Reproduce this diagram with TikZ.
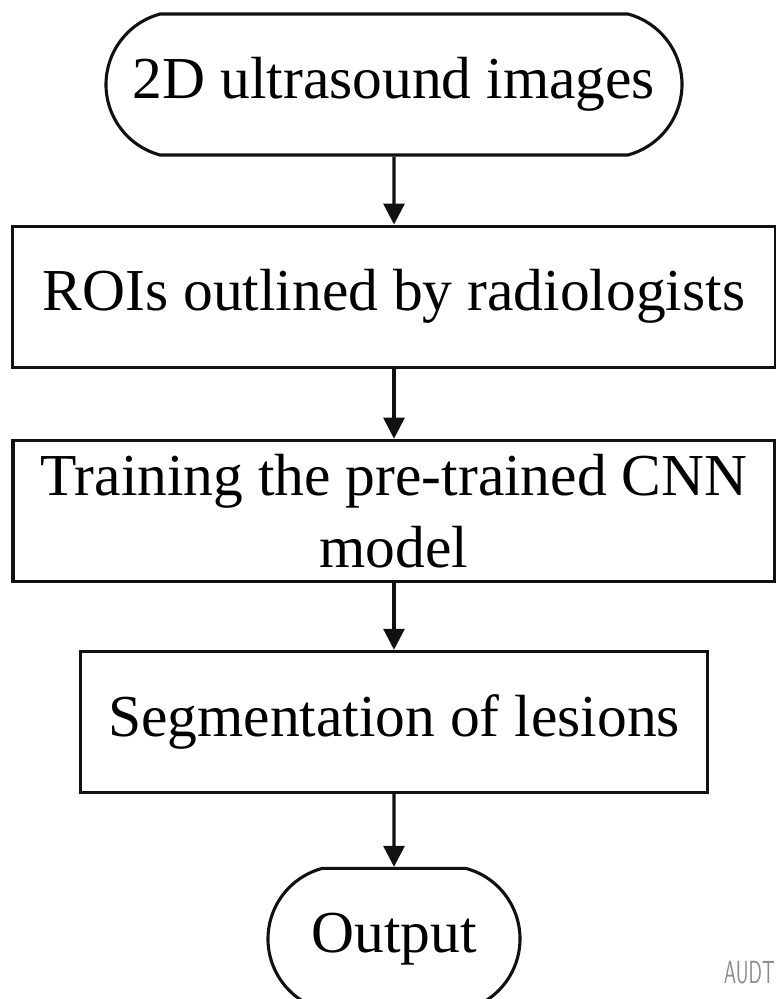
\documentclass[tikz,border=0pt]{standalone}
\usepackage{fontspec}
\setmainfont{Liberation Serif}
\usepackage{tikz}
\usetikzlibrary{arrows.meta,positioning,shapes.misc}
\definecolor{Ink}{HTML}{111111}
\definecolor{Mark}{HTML}{8C8C8C}
\tikzset{
  terminal/.style={rounded rectangle,rounded rectangle arc length=150,draw=Ink,line width=3.1pt,minimum height=141pt,inner sep=0pt,align=center,font=\fontsize{59.5}{72}\selectfont},
  procbox/.style={rectangle,draw=Ink,line width=3.1pt,minimum height=141pt,inner xsep=0pt,inner ysep=2pt,align=center,font=\fontsize{59.5}{72}\selectfont},
  flow/.style={-{Triangle[length=21pt,width=21pt]},draw=Ink,line width=3.1pt}
}
\begin{document}
\begin{tikzpicture}
  \useasboundingbox (0,0) rectangle (776pt,-999pt);
  \node[terminal,minimum width=576pt] (images) at (394pt,-84.5pt) {2D ultrasound images};
  \node[procbox,minimum width=763pt,below=68pt of images] (rois) {ROIs outlined by radiologists};
  \node[procbox,minimum width=762pt,below=70pt of rois] (training) {Training the pre-trained CNN\\model};
  \node[procbox,minimum width=627pt,below=67pt of training] (segment) {Segmentation of lesions};
  \node[terminal,minimum width=252pt,below=73pt of segment] (output) {Output};
  \draw[flow] (images) -- (rois);
  \draw[flow] (rois) -- (training);
  \draw[flow] (training) -- (segment);
  \draw[flow] (segment) -- (output);
  % watermark
  \node[anchor=east,text=Mark,font=\sffamily\fontsize{32}{32}\selectfont,xscale=.62] (mark) at (777pt,-973pt) {AUDT};
\end{tikzpicture}
\end{document}
